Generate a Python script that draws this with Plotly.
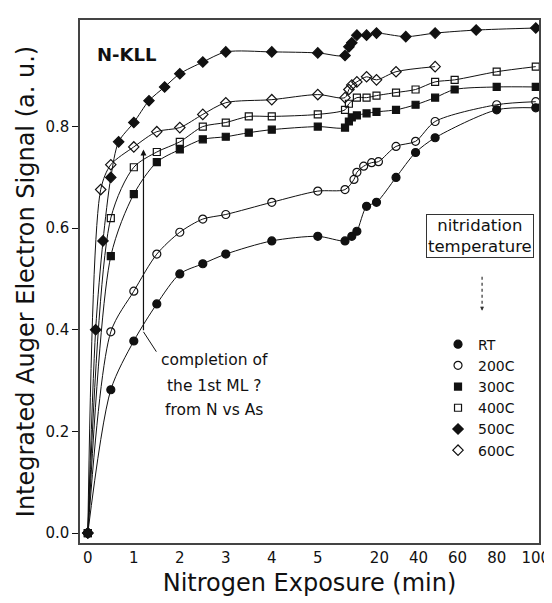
import numpy as np
import plotly.graph_objects as go

# ---------------- data (exposure in min, integrated N-KLL signal, a.u.) ----------------
RT_t   = [0, 0.5, 1, 1.5, 2, 2.5, 3, 4, 5, 5.8, 8.6, 10.7, 14.7, 18.8, 28.5, 38.5, 48.5, 80, 100]
RT_v   = [0, 0.282, 0.378, 0.451, 0.51, 0.53, 0.549, 0.575, 0.584, 0.575, 0.584, 0.594, 0.643, 0.651, 0.70, 0.749, 0.778, 0.833, 0.837]

C200_t = [0, 0.5, 1, 1.5, 2, 2.5, 3, 4, 5, 5.8, 9.5, 10.7, 13.5, 16.8, 19.6, 28.5, 38.5, 48.5, 80, 100]
C200_v = [0, 0.396, 0.476, 0.549, 0.592, 0.618, 0.627, 0.651, 0.673, 0.676, 0.696, 0.71, 0.722, 0.729, 0.731, 0.761, 0.771, 0.81, 0.843, 0.849]

C300_t = [0, 0.5, 1, 1.5, 2, 2.5, 3, 3.5, 4, 5, 5.8, 7.4, 8.6, 10.7, 14.7, 18.8, 28.5, 38.5, 48.5, 58.5, 80, 100]
C300_v = [0, 0.545, 0.667, 0.73, 0.755, 0.775, 0.78, 0.788, 0.794, 0.80, 0.798, 0.81, 0.818, 0.822, 0.826, 0.829, 0.833, 0.843, 0.857, 0.873, 0.878, 0.878]

C400_t = [0, 0.5, 1, 1.5, 2, 2.5, 3, 3.5, 4, 5, 5.8, 7.4, 10.7, 14.7, 18.8, 28.5, 38.5, 48.5, 58.5, 80, 100]
C400_v = [0, 0.62, 0.72, 0.75, 0.77, 0.80, 0.808, 0.82, 0.82, 0.824, 0.833, 0.845, 0.857, 0.857, 0.861, 0.867, 0.873, 0.888, 0.892, 0.908, 0.918]

C500_t = [0, 0.17, 0.33, 0.5, 0.67, 1, 1.33, 1.67, 2, 2.5, 3, 4, 5, 5.8, 7.4, 8.6, 10.7, 14.7, 18.8, 33.5, 48.5, 69.5, 100]
C500_v = [0, 0.40, 0.575, 0.70, 0.77, 0.808, 0.851, 0.878, 0.904, 0.927, 0.947, 0.947, 0.945, 0.94, 0.957, 0.965, 0.98, 0.98, 0.984, 0.977, 0.984, 0.99, 0.994]

C600_t = [0, 0.28, 0.5, 1, 1.5, 2, 2.5, 3, 4, 5, 5.8, 7.4, 8.6, 10.7, 14.7, 18.8, 28.5, 48.5]
C600_v = [0, 0.676, 0.725, 0.76, 0.79, 0.798, 0.824, 0.847, 0.853, 0.863, 0.857, 0.873, 0.882, 0.888, 0.898, 0.892, 0.908, 0.918]

series_names = ["RT", "200C", "300C", "400C", "500C", "600C"]
x_tick_values = [0, 1, 2, 3, 4, 5, 20, 40, 60, 80, 100]
y_tick_values = [0.0, 0.2, 0.4, 0.6, 0.8]

# ---------------- broken x scale: 0-5 min linear, then compressed 5-100 min ----------------
BREAK_KNOTS = [5, 20, 40, 60, 80, 100]
BREAK_POS = [5.55, 6.34, 7.19, 8.04, 8.89, 9.74]


def xmap(t):
    t = np.asarray(t, dtype=float)
    return np.where(t <= 5, t, np.interp(t, BREAK_KNOTS, BREAK_POS))


FONT = "DejaVu Sans"
INK = "#111111"

styles = [
    dict(symbol="circle", size=8),
    dict(symbol="circle-open", size=8),
    dict(symbol="square", size=7),
    dict(symbol="square-open", size=7),
    dict(symbol="diamond", size=8),
    dict(symbol="diamond-open", size=8),
]
data = [(RT_t, RT_v), (C200_t, C200_v), (C300_t, C300_v),
        (C400_t, C400_v), (C500_t, C500_v), (C600_t, C600_v)]

fig = go.Figure()
for name, (t, v), st in zip(series_names, data, styles):
    fig.add_trace(go.Scatter(
        x=xmap(t), y=v, mode="lines", showlegend=False,
        line=dict(color=INK, width=1, shape="spline", smoothing=0.8),
        hoverinfo="skip"))
for name, (t, v), st in zip(series_names, data, styles):
    fig.add_trace(go.Scatter(
        x=xmap(t), y=v, mode="markers", name=name,
        marker=dict(symbol=st["symbol"], size=st["size"], color=INK,
                    line=dict(color=INK, width=1.2))))

axis_common = dict(showgrid=False, zeroline=False, showline=True, mirror=True,
                   linecolor="#444444", linewidth=1.5)

fig.update_xaxes(
    range=[-0.17, 9.81], tickmode="array",
    tickvals=xmap(x_tick_values), ticktext=[str(v) for v in x_tick_values],
    ticks="", tickfont=dict(family=FONT, size=15, color=INK),
    title=dict(text="Nitrogen Exposure (min)", font=dict(family=FONT, size=24, color=INK), standoff=8),
    **axis_common)
fig.update_yaxes(
    range=[-0.0196, 1.0098], tickmode="array",
    tickvals=y_tick_values, ticktext=[f"{v:.1f}" for v in y_tick_values],
    ticks="outside", ticklen=6, tickcolor=INK,
    tickfont=dict(family=FONT, size=15, color=INK),
    title=dict(text="Integrated Auger Electron Signal (a. u.)", font=dict(family=FONT, size=24, color=INK), standoff=4),
    **axis_common)


def note(text, x, y, size, **kw):
    return dict(text=text, x=x, y=y, xref="paper", yref="paper", xanchor="center",
                yanchor="middle", showarrow=False,
                font=dict(family=FONT, size=size, color=INK), **kw)


annotations = [
    note("<b>N-KLL</b>", 0.102, 0.934, 18),
    # arrow marking completion of first monolayer
    dict(text="", x=xmap([1.21])[0], y=0.755, ax=xmap([1.21])[0], ay=0.396,
         xref="x", yref="y", axref="x", ayref="y", showarrow=True,
         arrowhead=2, arrowsize=1, arrowwidth=1.2, arrowcolor=INK),
    note("completion of", 0.293, 0.349, 15.5),
    note("the 1st ML ?", 0.293, 0.301, 15.5),
    note("from N vs As", 0.293, 0.254, 15.5),
    note("nitridation<br>temperature", 0.8725, 0.587, 16.5,
         bordercolor="#333333", borderwidth=1, borderpad=1, bgcolor="white"),
    dict(text="", x=0.876, y=0.444, ax=0, ay=-5, xref="paper", yref="paper",
         showarrow=True, arrowhead=2, arrowsize=0.8,
         arrowwidth=1, arrowcolor="#333333"),
]

shapes = [
    dict(type="line", xref="x", yref="y", x0=xmap([1.21])[0], y0=0.396,
         x1=xmap([1.49])[0], y1=0.357, line=dict(color=INK, width=1)),
    dict(type="line", xref="paper", yref="paper", x0=0.876, y0=0.509, x1=0.876, y1=0.448,
         line=dict(color="#333333", width=1.2, dash="dot")),
]

fig.update_layout(
    width=552, height=603,
    margin=dict(l=72, r=11, t=10, b=68),
    paper_bgcolor="white", plot_bgcolor="white",
    annotations=annotations, shapes=shapes,
    legend=dict(x=0.78, y=0.41, xanchor="left", yanchor="top",
                bgcolor="rgba(0,0,0,0)", borderwidth=0, itemwidth=30,
                font=dict(family=FONT, size=14, color=INK),
                tracegroupgap=0),
    font=dict(family=FONT, color=INK),
)

fig.write_html("out.html")
